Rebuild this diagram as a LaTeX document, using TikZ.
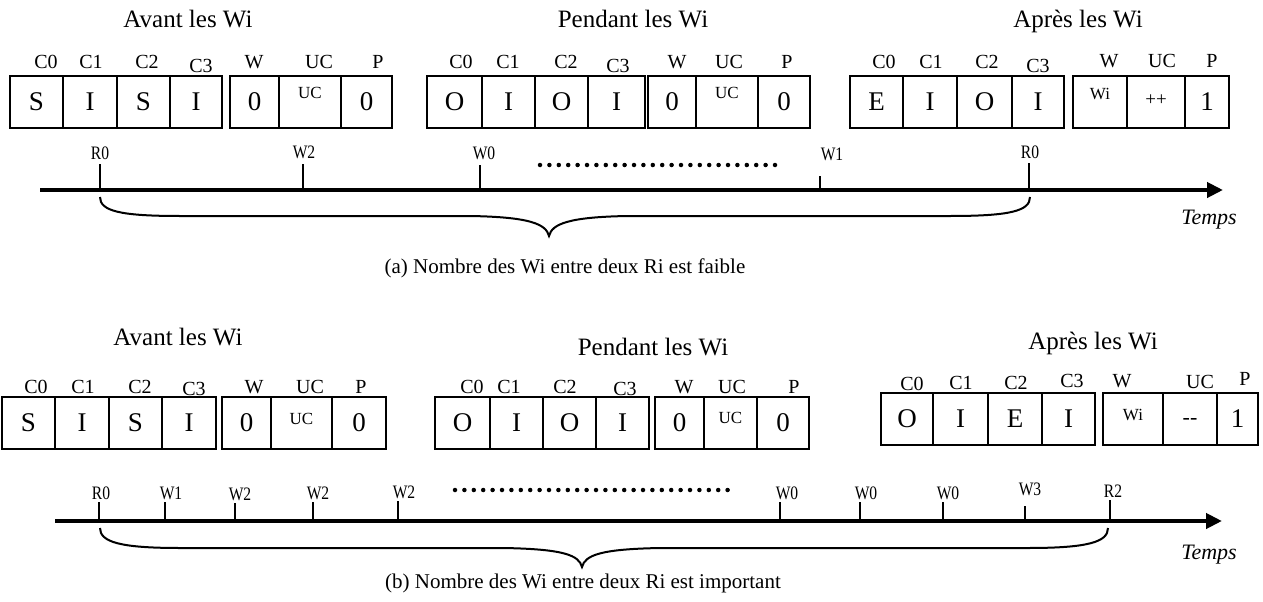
\documentclass[tikz,border=0pt]{standalone}
\usepackage{fontspec}
\setmainfont{Liberation Serif}
\newfontfamily\narrowrm[FakeStretch=0.82]{Liberation Serif}
\usetikzlibrary{arrows.meta}

\tikzset{
 cellbox/.style={draw, line width=1.8pt, minimum height=52pt, inner sep=0pt, font=\fontsize{27}{27}\selectfont},
 titletxt/.style={anchor=base, inner sep=0pt, font=\fontsize{25}{28}\selectfont},
 hdr/.style={anchor=base, inner sep=0pt, font=\fontsize{20}{22}\selectfont},
 smalltxt/.style={inner sep=0pt, font=\fontsize{17}{17}\selectfont},
 tlab/.style={anchor=base, inner sep=1pt, font=\narrowrm\fontsize{19}{19}\selectfont},
 tick/.style={line width=1.6pt},
 axisline/.style={line width=4.5pt, -{Triangle[length=16pt,width=15pt]}},
 dotrow/.style={line width=4.5pt, line cap=round, dash pattern=on 0pt off 9.4pt},
 bracepath/.style={line width=2pt},
 captiontxt/.style={anchor=base, inner sep=0pt, font=\fontsize{21}{24}\selectfont},
 tempstxt/.style={anchor=base, inner sep=0pt, font=\itshape\fontsize{22}{24}\selectfont},
}
\newcommand\mycell[5]{\node[cellbox, minimum width={#3-#2}] (#1) at ({(#2+#3)/2},#4) {#5};}
\newcommand\myhdr[4]{\node[hdr] (#1) at (#2,#3) {#4};}

\begin{document}
\begin{tikzpicture}[x=1pt,y=-1pt]
\useasboundingbox (0,0) rectangle (1263,602);

% ================= (a) =================
\node[titletxt] (ta1) at (188,28) {Avant les Wi};
\node[titletxt] (ta2) at (633,28) {Pendant les Wi};
\node[titletxt] (ta3) at (1078,28) {Après les Wi};

% group a1
\myhdr{ha1c0}{46}{69}{C0}\myhdr{ha1c1}{91}{69}{C1}\myhdr{ha1c2}{147}{69}{C2}\myhdr{ha1c3}{201}{72}{C3}
\myhdr{ha1w}{254}{69}{W}\myhdr{ha1u}{319}{69}{UC}\myhdr{ha1p}{378}{69}{P}
\mycell{a1c0}{10}{63}{102}{S}
\mycell{a1c1}{63}{117}{102}{I}
\mycell{a1c2}{117}{170}{102}{S}
\mycell{a1c3}{170}{222}{102}{I}
\mycell{a1w}{230}{279}{102}{0}
\mycell{a1u}{279}{341}{102}{}
\mycell{a1p}{341}{392}{102}{0}
\node[smalltxt] (a1ut) at ([yshift=9pt]a1u.center) {UC};

% group a2
\myhdr{ha2c0}{461}{69}{C0}\myhdr{ha2c1}{508}{69}{C1}\myhdr{ha2c2}{566}{69}{C2}\myhdr{ha2c3}{618}{72}{C3}
\myhdr{ha2w}{677}{69}{W}\myhdr{ha2u}{729}{69}{UC}\myhdr{ha2p}{787}{69}{P}
\mycell{a2c0}{427}{482}{102}{O}
\mycell{a2c1}{482}{535}{102}{I}
\mycell{a2c2}{535}{588}{102}{O}
\mycell{a2c3}{588}{645}{102}{I}
\mycell{a2w}{648}{696}{102}{0}
\mycell{a2u}{696}{758}{102}{}
\mycell{a2p}{758}{810}{102}{0}
\node[smalltxt] (a2ut) at ([yshift=9pt]a2u.center) {UC};

% group a3
\myhdr{ha3c0}{884}{68}{C0}\myhdr{ha3c1}{931}{68}{C1}\myhdr{ha3c2}{987}{68}{C2}\myhdr{ha3c3}{1038}{72}{C3}
\myhdr{ha3w}{1109}{67}{W}\myhdr{ha3u}{1162}{67}{UC}\myhdr{ha3p}{1212}{67}{P}
\mycell{a3c0}{850}{903}{102}{E}
\mycell{a3c1}{903}{957}{102}{I}
\mycell{a3c2}{957}{1012}{102}{O}
\mycell{a3c3}{1012}{1064}{102}{I}
\mycell{a3w}{1073}{1127}{102}{}
\mycell{a3u}{1127}{1185}{102}{}
\mycell{a3p}{1185}{1229}{102}{1}
\node[smalltxt] (a3wt) at ([yshift=8pt]a3w.center) {Wi};
\node[smalltxt,font=\fontsize{19}{19}\selectfont] (a3ut) at ([yshift=2pt]a3u.center) {++};

% timeline a
\coordinate (axA0) at (40,190);
\coordinate (axA1) at (1223,190);
\draw[axisline] (axA0) -- (axA1);
\node[tlab] (la1) at (100,159) {R0};
\node[tlab] (la2) at (304,158) {W2};
\node[tlab] (la3) at (484,159) {W0};
\node[tlab] (la4) at (832,160) {W1};
\node[tlab] (la5) at (1030,158) {R0};
\foreach \i/\x/\t in {1/100/164, 2/303/164, 3/480/165, 4/820/176, 5/1029/163}{
  \coordinate (kaT\i) at (\x,\t);
  \coordinate (kaB\i) at (\x,190);
  \draw[tick] (kaT\i) -- (kaB\i);
}
\coordinate (dA0) at (540,165);
\coordinate (dA1) at (776,165);
\draw[dotrow] (dA0) -- (dA1);

\coordinate (bA1) at (100,197);
\coordinate (bAt) at (549,236);
\coordinate (bA2) at (1030,197);
\draw[bracepath] (bA1) .. controls (100,211) and (120,216) .. (180,216) -- (470,216)
  .. controls (530,217) and (546,224) .. (bAt)
  .. controls (552,224) and (568,217) .. (628,216) -- (950,216)
  .. controls (1010,216) and (1030,211) .. (bA2);

\node[tempstxt] (tempsA) at (1209,224) {Temps};
\node[captiontxt] (capA) at (565,273) {(a) Nombre des Wi entre deux Ri est faible};

% ================= (b) =================
\node[titletxt] (tb1) at (178,345) {Avant les Wi};
\node[titletxt] (tb2) at (653,355) {Pendant les Wi};
\node[titletxt] (tb3) at (1093,349) {Après les Wi};

% group b1
\myhdr{hb1c0}{36}{393}{C0}\myhdr{hb1c1}{83}{393}{C1}\myhdr{hb1c2}{140}{393}{C2}\myhdr{hb1c3}{194}{395}{C3}
\myhdr{hb1w}{254}{393}{W}\myhdr{hb1u}{310}{393}{UC}\myhdr{hb1p}{361}{393}{P}
\mycell{b1c0}{2}{55}{423}{S}
\mycell{b1c1}{55}{109}{423}{I}
\mycell{b1c2}{109}{162}{423}{S}
\mycell{b1c3}{162}{216}{423}{I}
\mycell{b1w}{222}{271}{423}{0}
\mycell{b1u}{271}{332}{423}{}
\mycell{b1p}{332}{386}{423}{0}
\node[smalltxt] (b1ut) at ([yshift=4pt]b1u.center) {UC};

% group b2
\myhdr{hb2c0}{472}{393}{C0}\myhdr{hb2c1}{509}{393}{C1}\myhdr{hb2c2}{565}{393}{C2}\myhdr{hb2c3}{625}{395}{C3}
\myhdr{hb2w}{684}{393}{W}\myhdr{hb2u}{732}{393}{UC}\myhdr{hb2p}{794}{393}{P}
\mycell{b2c0}{435}{490}{423}{O}
\mycell{b2c1}{490}{543}{423}{I}
\mycell{b2c2}{543}{596}{423}{O}
\mycell{b2c3}{596}{649}{423}{I}
\mycell{b2w}{655}{704}{423}{0}
\mycell{b2u}{704}{757}{423}{}
\mycell{b2p}{757}{809}{423}{0}
\node[smalltxt] (b2ut) at ([yshift=5pt]b2u.center) {UC};

% group b3
\myhdr{hb3c0}{912}{390}{C0}\myhdr{hb3c1}{961}{389}{C1}\myhdr{hb3c2}{1016}{389}{C2}\myhdr{hb3c3}{1072}{387}{C3}
\myhdr{hb3w}{1122}{387}{W}\myhdr{hb3u}{1200}{388}{UC}\myhdr{hb3p}{1245}{385}{P}
\mycell{b3c0}{881}{933}{419}{O}
\mycell{b3c1}{933}{988}{419}{I}
\mycell{b3c2}{988}{1042}{419}{E}
\mycell{b3c3}{1042}{1095}{419}{I}
\mycell{b3w}{1103}{1163}{419}{}
\mycell{b3u}{1163}{1217}{419}{}
\mycell{b3p}{1217}{1258}{419}{1}
\node[smalltxt] (b3wt) at ([yshift=4pt]b3w.center) {Wi};
\node[smalltxt,font=\fontsize{22}{22}\selectfont] (b3ut) at ([yshift=-2pt]b3u.center) {-{}-};

% timeline b
\coordinate (axB0) at (55,521);
\coordinate (axB1) at (1222,521);
\draw[axisline] (axB0) -- (axB1);
\foreach \i/\lx/\ly/\txt in {1/101/499/R0, 2/171/499/W1, 3/240/500/W2, 4/318/499/W2, 5/404/498/W2,
   6/787/499/W0, 7/866/499/W0, 8/948/499/W0, 9/1030/495/W3, 10/1113/497/R2}{
  \node[tlab] (lb\i) at (\lx,\ly) {\txt};
}
\foreach \i/\x/\t in {1/99/502, 2/165/502, 3/235/503, 4/313/502, 5/398/501,
   6/780/502, 7/860/502, 8/943/502, 9/1025/506, 10/1110/500}{
  \coordinate (kbT\i) at (\x,\t);
  \coordinate (kbB\i) at (\x,521);
  \draw[tick] (kbT\i) -- (kbB\i);
}
\coordinate (dB0) at (455,490);
\coordinate (dB1) at (736,490);
\draw[dotrow] (dB0) -- (dB1);

\coordinate (bB1) at (100,528);
\coordinate (bBt) at (582,567);
\coordinate (bB2) at (1108,528);
\draw[bracepath] (bB1) .. controls (100,542) and (120,548) .. (180,548) -- (503,548)
  .. controls (563,549) and (579,555) .. (bBt)
  .. controls (585,555) and (601,549) .. (661,548) -- (1028,548)
  .. controls (1088,548) and (1108,542) .. (bB2);

\node[tempstxt] (tempsB) at (1209,559) {Temps};
\node[captiontxt] (capB) at (583,588) {(b) Nombre des Wi entre deux Ri est important};
\end{tikzpicture}
\end{document}
